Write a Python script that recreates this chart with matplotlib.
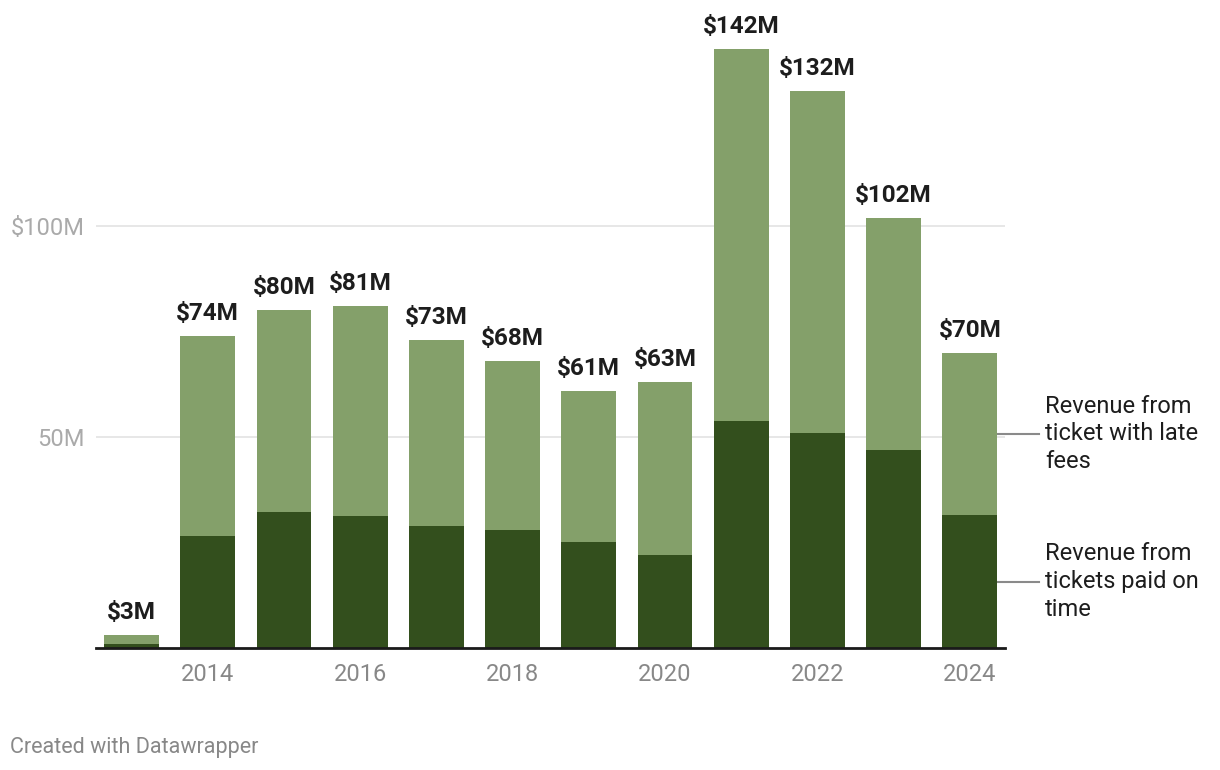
import matplotlib.pyplot as plt
import numpy as np

years = np.arange(2013, 2025)
on_time = [1.0, 26.5, 32.2, 31.3, 28.9, 28.0, 25.1, 22.0, 53.8, 50.9, 46.9, 31.5]
totals = [3, 74, 80, 81, 73, 68, 61, 63, 142, 132, 102, 70]
late_fees = [t - o for t, o in zip(totals, on_time)]

y_ticks = [50, 100]
y_tick_labels = ["50M", "$100M"]
x_ticks = [2014, 2016, 2018, 2020, 2022, 2024]

dark = "#334f1d"
light = "#84a06a"

plt.rcParams['font.family'] = ['Roboto', 'DejaVu Sans']

fig = plt.figure(figsize=(12.2, 7.7), dpi=100)
ax = fig.add_axes([0.0787, 0.1584, 0.745, 0.8286])

width = 0.72
ax.bar(years, on_time, width=width, color=dark, zorder=2)
ax.bar(years, late_fees, width=width, bottom=on_time, color=light, zorder=2)

for x, t in zip(years, totals):
    ax.annotate(f"${t}M", (x, t), xytext=(0, 8), textcoords="offset points",
                ha="center", va="bottom", fontsize=17.5, fontweight="bold",
                color="#1d1d1d")

ax.set_xlim(2013 - 0.466, 2024 + 0.46)
ax.set_ylim(0, 151.2)

ax.set_yticks(y_ticks)
ax.set_yticklabels(y_tick_labels, fontsize=17, color="#aaaaaa")
ax.set_xticks(x_ticks)
ax.set_xticklabels([str(x) for x in x_ticks], fontsize=17, color="#888888")
ax.tick_params(axis="both", length=0)
ax.tick_params(axis="y", pad=8)
ax.tick_params(axis="x", pad=11)
ax.grid(axis="y", color="#e3e3e3", linewidth=1.2, zorder=0)

for side in ["top", "right", "left"]:
    ax.spines[side].set_visible(False)
ax.spines["bottom"].set_color("#1a1a1a")
ax.spines["bottom"].set_linewidth(2)
ax.spines["bottom"].set_zorder(3)

# direct labels for the last bar
last = len(years) - 1
mid_light = on_time[last] + late_fees[last] / 2
mid_dark = on_time[last] / 2
for y_mid, label in [(mid_light, "Revenue from\nticket with late\nfees"),
                     (mid_dark, "Revenue from\ntickets paid on\ntime")]:
    ax.plot([years[last] + width / 2, years[last] + 0.91], [y_mid, y_mid],
            color="#8a8a8a", linewidth=1.5, clip_on=False, zorder=1)
    ax.text(years[last] + 0.99, y_mid, label, ha="left", va="center",
            fontsize=17, color="#1d1d1d", linespacing=1.27)

fig.text(10 / 1220, 1 - 748 / 770, "Created with Datawrapper", fontsize=15.5,
         color="#888888", ha="left", va="center")

fig.savefig("out.png", dpi=100)
